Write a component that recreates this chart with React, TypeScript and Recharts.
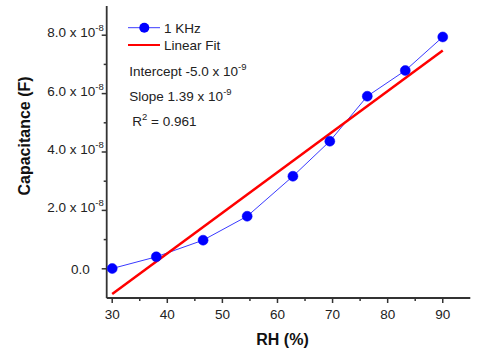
import React from "react";
import { LineChart, Line, XAxis, YAxis } from "recharts";

// Measured data (1 KHz)
const rh = [30, 38, 46.5, 54.5, 62.8, 69.5, 76.3, 83.2, 90];
const capacitance = [0.1e-9, 4.1e-9, 9.8e-9, 1.8e-8, 3.17e-8, 4.37e-8, 5.91e-8, 6.79e-8, 7.94e-8];

// Linear fit end points
const fitRh = [30, 90];
const fitCap = [-0.86e-8, 7.48e-8];

const xTicks = [30, 35, 40, 45, 50, 55, 60, 65, 70, 75, 80, 85, 90];
const xMajor = [30, 40, 50, 60, 70, 80, 90];
const yTicks = [0, 1e-8, 2e-8, 3e-8, 4e-8, 5e-8, 6e-8, 7e-8, 8e-8];
const yMajor = [0, 2, 4, 6, 8];

const measured = rh.map((x, i) => ({ rh: x, cap: capacitance[i] }));
const fit = fitRh.map((x, i) => ({ rh: x, cap: fitCap[i] }));

const AXIS = "#333";
const FONT = "'Liberation Sans', Arial, sans-serif";

const BottomTick = (props: any) => {
  const { x, y, payload } = props;
  const v = payload.value;
  const major = xMajor.includes(v);
  return (
    <g>
      <line x1={x} x2={x} y1={y} y2={y + (major ? 5 : 3)} stroke={AXIS} strokeWidth={1.5} />
      {major && (
        <text x={x} y={y + 21} textAnchor="middle" fontSize={13.5} fill="#222" fontFamily={FONT}>
          {v}
        </text>
      )}
    </g>
  );
};

const LeftTick = (props: any) => {
  const { x, y, payload } = props;
  const n = Math.round(payload.value / 1e-8);
  const major = yMajor.includes(n);
  return (
    <g>
      <line x1={x} x2={x - (major ? 5 : 3)} y1={y} y2={y} stroke={AXIS} strokeWidth={1.5} />
      {major &&
        (n === 0 ? (
          <text x={x - 17} y={y + 5} textAnchor="end" fontSize={13.5} fill="#222" fontFamily={FONT}>
            0.0
          </text>
        ) : (
          <text x={x - 3} y={y + 2} textAnchor="end" fontSize={13.5} fill="#222" fontFamily={FONT}>
            <tspan>{`${n}.0 x 10`}</tspan>
            <tspan dy={-6} fontSize={9.5}>-8</tspan>
          </text>
        ))}
    </g>
  );
};

const TopTick = (props: any) => {
  const { x, y } = props;
  return <line x1={x} x2={x} y1={y} y2={y + 3} stroke={AXIS} strokeWidth={1.2} />;
};

const RightTick = (props: any) => {
  const { x, y } = props;
  return <line x1={x} x2={x - 3} y1={y} y2={y} stroke={AXIS} strokeWidth={1.2} />;
};

const YTitle = (props: any) => {
  const vb = props.viewBox;
  const cx = vb.x + 24;
  const cy = vb.y + vb.height / 2 - 16;
  return (
    <text
      x={cx}
      y={cy}
      transform={`rotate(-90, ${cx}, ${cy})`}
      textAnchor="middle"
      dominantBaseline="central"
      fontSize={16}
      fontWeight="bold"
      fill="#111"
      fontFamily={FONT}
    >
      Capacitance (F)
    </text>
  );
};

const XTitle = (props: any) => {
  const vb = props.viewBox;
  return (
    <text
      x={vb.x + vb.width / 2 - 6}
      y={vb.y + 47}
      textAnchor="middle"
      fontSize={16}
      fontWeight="bold"
      fill="#111"
      fontFamily={FONT}
    >
      RH (%)
    </text>
  );
};

export default function App() {
  return (
    <div style={{ position: "absolute", left: 0, top: 0, width: 480, height: 356, background: "#fff" }}>
      <LineChart
        width={480}
        height={356}
        margin={{ top: 6, right: 9.7, bottom: 8, left: 0 }}
        style={{ fontFamily: FONT }}
      >
        <XAxis
          xAxisId="b"
          dataKey="rh"
          type="number"
          domain={[29, 95]}
          ticks={xTicks}
          interval={0}
          height={50}
          tickSize={0}
          tickMargin={0}
          tickLine={false}
          axisLine={{ stroke: AXIS, strokeWidth: 1.8 }}
          tick={<BottomTick />}
          label={{ content: <XTitle /> }}
        />
        <XAxis
          xAxisId="t"
          orientation="top"
          dataKey="rh"
          type="number"
          domain={[29, 95]}
          ticks={xTicks}
          interval={0}
          height={0}
          tickSize={0}
          tickMargin={0}
          tickLine={false}
          axisLine={{ stroke: AXIS, strokeWidth: 1.8 }}
          tick={<TopTick />}
        />
        <YAxis
          yAxisId="l"
          type="number"
          domain={[-1e-8, 9e-8]}
          ticks={yTicks}
          interval={0}
          width={106.7}
          tickSize={0}
          tickMargin={0}
          tickLine={false}
          axisLine={{ stroke: AXIS, strokeWidth: 1.8 }}
          tick={<LeftTick />}
          label={{ content: <YTitle /> }}
        />
        <YAxis
          yAxisId="r"
          orientation="right"
          type="number"
          domain={[-1e-8, 9e-8]}
          ticks={yTicks}
          interval={0}
          width={0}
          tickSize={0}
          tickMargin={0}
          tickLine={false}
          axisLine={{ stroke: AXIS, strokeWidth: 1.8 }}
          tick={<RightTick />}
        />
        <Line
          xAxisId="b"
          yAxisId="l"
          data={measured}
          dataKey="cap"
          stroke="#3a3aff"
          strokeWidth={1}
          dot={{ r: 5, fill: "#0000ff", stroke: "#0000ff", strokeWidth: 0.5 }}
          isAnimationActive={false}
        />
        <Line
          xAxisId="b"
          yAxisId="l"
          data={fit}
          dataKey="cap"
          stroke="#ff0000"
          strokeWidth={2.5}
          dot={false}
          isAnimationActive={false}
        />
      </LineChart>
      <svg
        width={480}
        height={356}
        style={{ position: "absolute", left: 0, top: 0, pointerEvents: "none" }}
        fontFamily={FONT}
      >
        <line x1={128} x2={160} y1={27.7} y2={27.7} stroke="#3a3aff" strokeWidth={1} />
        <circle cx={144.3} cy={27.7} r={5} fill="#0000ff" />
        <text x={164} y={32.5} fontSize={13.5} fill="#222">1 KHz</text>
        <line x1={128} x2={160} y1={45} y2={45} stroke="#ff0000" strokeWidth={2} />
        <text x={164} y={50} fontSize={13.5} fill="#222">Linear Fit</text>
        <text x={129.3} y={76} fontSize={13.5} fill="#222">
          <tspan>Intercept -5.0 x 10</tspan>
          <tspan dy={-6} fontSize={9.5}>-9</tspan>
        </text>
        <text x={129.3} y={101} fontSize={13.5} fill="#222">
          <tspan>Slope 1.39 x 10</tspan>
          <tspan dy={-6} fontSize={9.5}>-9</tspan>
        </text>
        <text x={132.3} y={125.7} fontSize={13.5} fill="#222">
          <tspan>R</tspan>
          <tspan dy={-6} fontSize={9.5}>2</tspan>
          <tspan dy={6}> = 0.961</tspan>
        </text>
      </svg>
    </div>
  );
}
